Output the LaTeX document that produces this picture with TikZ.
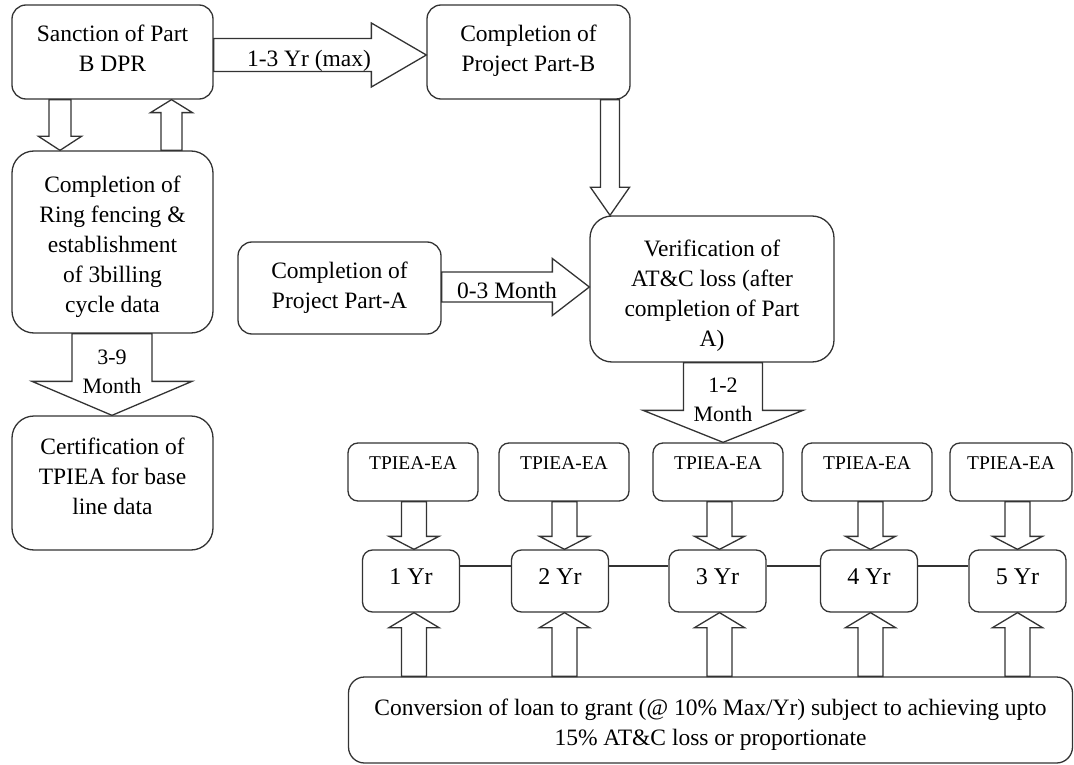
\documentclass[tikz,border=0pt]{standalone}
\usepackage{fontspec}
\setmainfont{Liberation Serif}
\usetikzlibrary{calc}
\tikzset{
 box/.style={draw=black!80, line width=1.3pt, inner sep=0pt, align=center, font=\fontsize{23.5}{30}\selectfont},
 bigbox/.style={box, rounded corners=22pt},
 midbox/.style={box, rounded corners=14pt},
 smallbox/.style={box, rounded corners=10pt},
 tpbox/.style={smallbox, minimum height=58pt, font=\fontsize{19.5}{22}\selectfont, text height=13pt, text depth=19pt},
 yrbox/.style={smallbox, minimum width=97pt, minimum height=62pt, font=\fontsize{24}{28}\selectfont, text height=17pt, text depth=11pt},
 blk/.style={draw=black!80, line width=1.3pt, line join=miter},
 lbl/.style={inner sep=0pt, align=center, font=\fontsize{23.5}{30}\selectfont},
 lbltwo/.style={inner sep=0pt, align=center, font=\fontsize{22}{29}\selectfont},
}
\newcommand\blockarrow[5]{%
 \coordinate (basrc) at (#1); \coordinate (batip) at (#2);
 \coordinate (baq) at ($(batip)!#5pt!(basrc)$);
 \draw[blk] ($(basrc)!#3pt!90:(batip)$) -- ($(baq)!#3pt!90:(batip)$) -- ($(baq)!#4pt!90:(batip)$) -- (batip) -- ($(baq)!#4pt!-90:(batip)$) -- ($(baq)!#3pt!-90:(batip)$) -- ($(basrc)!#3pt!-90:(batip)$) -- cycle;}
\begin{document}
\begin{tikzpicture}[x=1pt,y=-1pt]
\useasboundingbox (0,0) rectangle (1074,765);
\node[midbox, minimum width=201pt, minimum height=94pt] (sanc) at (112.5,52) {Sanction of Part\\B DPR\\[-22pt]\mbox{}};
\node[bigbox, minimum width=201pt, minimum height=182pt] (ring) at (112.5,242) {Completion of\\Ring fencing \&\\establishment\\of 3billing\\cycle data\\[-35pt]\mbox{}};
\node[bigbox, minimum width=201pt, minimum height=134pt] (cert) at (112.5,483) {Certification of\\TPIEA for base\\line data\\[-16pt]\mbox{}};
\node[midbox, minimum width=203pt, minimum height=92pt] (partA) at (339.5,288) {Completion of\\Project Part-A};
\node[midbox, minimum width=203pt, minimum height=94pt] (partB) at (528.5,52) {Completion of\\Project Part-B\\[-22pt]\mbox{}};
\node[bigbox, minimum width=244pt, minimum height=146pt] (verif) at (712,289) {Verification of\\AT\&C loss (after\\completion of Part\\A)\\[-38pt]\mbox{}};
\foreach \i/\c/\w in {1/413/130,2/564/130,3/718/130,4/867/130,5/1011/122}
  \node[tpbox, minimum width=\w pt] (tp\i) at (\c,472) {TPIEA-EA};
\foreach \i/\c in {1/411,2/560,3/717.5,4/869,5/1017.5}
  \node[yrbox] (yr\i) at (\c,581) {\i\ Yr};
\node[box, rounded corners=16pt, minimum width=724pt, minimum height=86pt] (conv) at (710.5,720) {Conversion of loan to grant (@ 10\% Max/Yr) subject to achieving upto\\15\% AT\&C loss or proportionate\\[-34pt]\mbox{}};
\foreach \a/\b in {1/2,2/3,3/4,4/5}
  \draw[blk] (yr\a.east |- 0,566) -- (yr\b.west |- 0,566);
\blockarrow{60,0 |- sanc.south}{60,0 |- ring.north}{11}{21.5}{14}
\blockarrow{171.5,0 |- ring.north}{171.5,0 |- sanc.south}{10.5}{21}{13}
\blockarrow{sanc.east |- 0,55}{partB.west |- 0,55}{16.5}{32}{55}
\blockarrow{610,0 |- partB.south}{610,0 |- verif.north}{9.5}{19.5}{28}
\blockarrow{partA.east |- 0,287}{verif.west |- 0,287}{15}{28.5}{37}
\blockarrow{112,0 |- ring.south}{112,0 |- cert.north}{40}{80}{34}
\blockarrow{723,0 |- verif.south}{723,0 |- tp3.north}{39.5}{80}{32}
\foreach \i/\c in {1/414,2/564.5,3/719.5,4/870.5,5/1017.5}{
  \blockarrow{\c,0 |- tp\i.south}{\c,0 |- yr\i.north}{12.5}{25}{13}
  \blockarrow{\c,0 |- conv.north}{\c,0 |- yr\i.south}{12.5}{25}{15}
}
\node[lbl] (l13) at (309,61) {1-3 Yr (max)};
\node[lbl] (l03) at (507,290) {0-3 Month};
\node[lbltwo] (l39) at (112,372) {3-9\\Month};
\node[lbltwo] (l12) at (723,400) {1-2\\Month};
\end{tikzpicture}
\end{document}
